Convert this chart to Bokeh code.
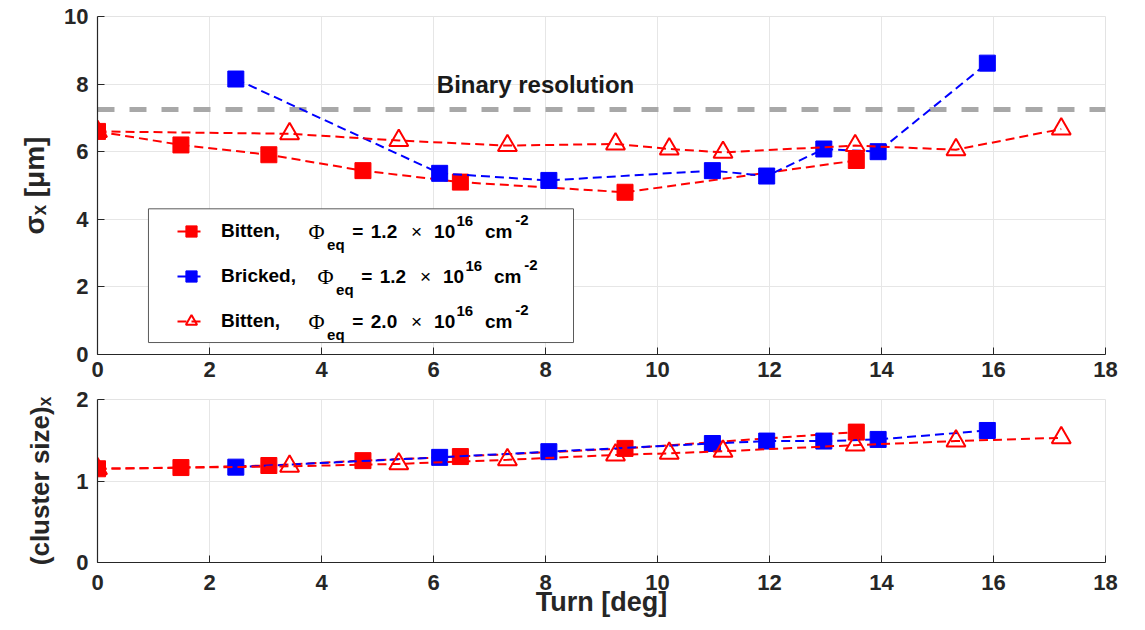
from bokeh.plotting import figure
from bokeh.layouts import column
from bokeh.models import (Range1d, FixedTicker, Span, BoxAnnotation, Legend,
                          LegendItem, Label)
from bokeh.embed import file_html
from bokeh.resources import INLINE

# Turn angle [deg] for each sensor series
turn_bitten12 = [0.0, 1.49, 3.06, 4.74, 6.48, 9.42, 13.55]
turn_bricked12 = [2.47, 6.11, 8.06, 10.98, 11.95, 12.97, 13.94, 15.89]
turn_bitten20 = [0.0, 3.43, 5.38, 7.32, 9.25, 10.21, 11.17, 13.53, 15.33, 17.21]

# Spatial resolution sigma_x [um]
sigma_bitten12 = [6.60, 6.20, 5.91, 5.44, 5.10, 4.80, 5.74]
sigma_bricked12 = [8.15, 5.36, 5.15, 5.44, 5.28, 6.08, 6.00, 8.62]
sigma_bitten20 = [6.60, 6.53, 6.33, 6.18, 6.23, 6.08, 5.98, 6.18, 6.06, 6.67]

# Mean cluster size in x
cluster_bitten12 = [1.15, 1.165, 1.19, 1.25, 1.30, 1.40, 1.60]
cluster_bricked12 = [1.17, 1.29, 1.36, 1.46, 1.49, 1.49, 1.51, 1.62]
cluster_bitten20 = [1.15, 1.18, 1.21, 1.26, 1.32, 1.34, 1.365, 1.44, 1.49, 1.53]

binary_resolution = 7.25
x_ticks = [0, 2, 4, 6, 8, 10, 12, 14, 16, 18]

RED = "#ff0000"
BLUE = "#0000ff"
FONT = "Liberation Sans"
TICK_COLOR = "#262626"


def style(p, yticks, label_standoff):
    p.background_fill_color = "white"
    p.border_fill_color = "white"
    p.outline_line_color = "#e3e3e3"
    p.xaxis.ticker = FixedTicker(ticks=x_ticks)
    p.yaxis.ticker = FixedTicker(ticks=yticks)
    for ax in (p.xaxis[0], p.yaxis[0]):
        ax.axis_line_color = TICK_COLOR
        ax.axis_line_width = 1.2
        ax.major_tick_in = 7
        ax.major_tick_out = 0
        ax.minor_tick_line_color = None
        ax.major_tick_line_color = TICK_COLOR
        ax.major_label_text_font = FONT
        ax.major_label_text_font_style = "bold"
        ax.major_label_text_font_size = "22px"
        ax.major_label_text_color = TICK_COLOR
        ax.axis_label_text_font = FONT
        ax.axis_label_text_font_style = "bold"
        ax.axis_label_text_font_size = "26px"
        ax.axis_label_text_color = TICK_COLOR
    p.yaxis.major_label_standoff = 9
    p.yaxis.axis_label_standoff = label_standoff
    p.xgrid.grid_line_color = "#e6e6e6"
    p.ygrid.grid_line_color = "#e6e6e6"
    p.xgrid.ticker = FixedTicker(ticks=x_ticks)
    p.ygrid.ticker = FixedTicker(ticks=yticks)


def draw_series(p, ys):
    """Draw the three sensor series (dashed line + markers); returns renderers."""
    l1 = p.line(turn_bitten12, ys[0], color=RED, line_width=2, line_dash="9 5")
    s1 = p.scatter(turn_bitten12, ys[0], marker="square", size=16,
                   fill_color=RED, line_color=RED)
    l2 = p.line(turn_bricked12, ys[1], color=BLUE, line_width=2, line_dash="9 5")
    s2 = p.scatter(turn_bricked12, ys[1], marker="square", size=16,
                   fill_color=BLUE, line_color=BLUE)
    l3 = p.line(turn_bitten20, ys[2], color=RED, line_width=2, line_dash="9 5")
    s3 = p.scatter(turn_bitten20, ys[2], marker="triangle", size=19,
                   fill_color="white", fill_alpha=0, line_color=RED, line_width=2)
    return (l1, s1), (l2, s2), (l3, s3)


# ---------------- upper panel: sigma_x ----------------
top = figure(width=1145, height=386, x_range=Range1d(0, 18), y_range=Range1d(0, 10),
             output_backend="svg", toolbar_location=None,
             min_border_left=97, min_border_right=34, min_border_top=16,
             min_border_bottom=32)
style(top, [0, 2, 4, 6, 8, 10], 11)
top.xaxis.major_label_standoff = 7
top.yaxis.axis_label = "σₓ [μm]"
top.yaxis.axis_label_text_font_size = "28px"

top.add_layout(Span(location=binary_resolution, dimension="width", line_color="#a8a8a8",
                    line_width=5, line_dash="17 15", level="underlay"))
top.add_layout(Label(x=6.06, y=8.0, text="Binary resolution", text_font=FONT,
                     text_font_style="bold", text_font_size="24px", text_color="#1a1a1a",
                     text_baseline="middle"))

r_b12, r_br12, r_b20 = draw_series(top, [sigma_bitten12, sigma_bricked12, sigma_bitten20])

# legend frame
top.add_layout(BoxAnnotation(left=0.91, right=8.50, bottom=0.354, top=4.31,
                             fill_color="white", fill_alpha=1.0,
                             line_color="#5a5a5a", line_alpha=1.0, line_width=1))

legend = Legend(items=[LegendItem(label="Bitten,", renderers=list(r_b12)),
                       LegendItem(label="Bricked,", renderers=list(r_br12)),
                       LegendItem(label="Bitten,", renderers=list(r_b20))],
                location=(80, 18), padding=0, spacing=15,
                glyph_width=28, glyph_height=30, label_height=30,
                label_standoff=16, border_line_alpha=0, background_fill_alpha=0,
                label_text_font=FONT, label_text_font_style="bold",
                label_text_font_size="19px", label_text_color="black")
top.add_layout(legend, "center")

# fluence text in the legend rows
fluence = ["1.2", "1.2", "2.0"]
row_y = [3.64, 2.31, 0.98]
row_shift = [0.0, 0.16, 0.0]
for val, yc, dx in zip(fluence, row_y, row_shift):
    pieces = [
        (3.77, yc, "Φ", "Liberation Serif", "normal", "22px"),
        (4.10, yc - 0.40, "eq", FONT, "bold", "15px"),
        (4.55, yc, "=", FONT, "bold", "19px"),
        (4.88, yc, val, FONT, "bold", "19px"),
        (5.60, yc, "×", FONT, "normal", "19px"),
        (6.01, yc, "10", FONT, "bold", "19px"),
        (6.41, yc + 0.30, "16", FONT, "bold", "15px"),
        (6.92, yc, "cm", FONT, "bold", "19px"),
        (7.46, yc + 0.33, "-2", FONT, "bold", "15px"),
    ]
    for x, y, t, f, st, fs in pieces:
        top.add_layout(Label(x=x + dx, y=y, text=t, text_font=f, text_font_style=st,
                             text_font_size=fs, text_color="black",
                             text_baseline="middle"))

# ---------------- lower panel: cluster size ----------------
bot = figure(width=1145, height=244, x_range=Range1d(0, 18), y_range=Range1d(0, 2),
             output_backend="svg", toolbar_location=None,
             min_border_left=96, min_border_right=40, min_border_top=13,
             min_border_bottom=68)
style(bot, [0, 1, 2], 18)
bot.xaxis.major_label_standoff = 12
bot.yaxis.axis_label = "(cluster size)ₓ"
bot.xaxis.axis_label = "Turn [deg]"
bot.xaxis.axis_label_text_font_size = "27px"
bot.xaxis.axis_label_standoff = -6

draw_series(bot, [cluster_bitten12, cluster_bricked12, cluster_bitten20])

layout = column(top, bot, spacing=0)
open("out.html", "w").write(file_html(layout, INLINE))
